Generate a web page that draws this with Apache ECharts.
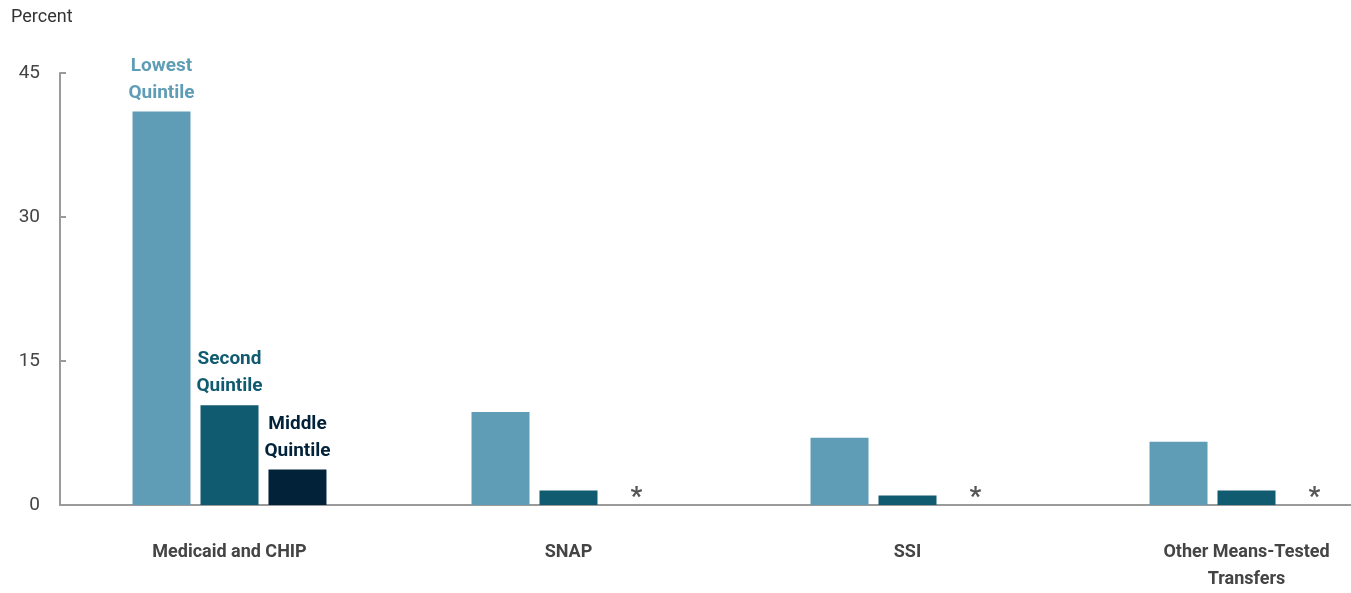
<!DOCTYPE html>
<html>
<head>
<meta charset="utf-8">
<script src="https://cdn.jsdelivr.net/npm/echarts@6/dist/echarts.min.js"></script>
<style>
  html, body { margin: 0; padding: 0; background: #fff; overflow: hidden; }
  #chart { width: 1416px; height: 593px; }
</style>
</head>
<body>
<div id="chart"></div>
<script>
// Programs and quintile shares (percent)
const categories = ['Medicaid and CHIP', 'SNAP', 'SSI', 'Other Means-Tested\nTransfers'];
const seriesNames = ['Lowest Quintile', 'Second Quintile', 'Middle Quintile'];
const lowest = [41.0, 9.7, 7.0, 6.6];
const second = [10.4, 1.5, 1.0, 1.5];
const middle = [3.7, 0, 0, 0];           // zero entries shown with an asterisk
const middleMarks = [null, '*', '*', '*'];
const yTicks = [0, 15, 30, 45];

const colors = ['#5e9db5', '#115b70', '#02223a'];
const FONT = 'Roboto, "Liberation Sans", sans-serif';

function nameLabel(i) {
  return {
    show: true,
    position: 'top',
    distance: 5,
    formatter: seriesNames[i].replace(' ', '\n'),
    color: colors[i],
    fontFamily: FONT,
    fontWeight: 'bold',
    fontSize: 19,
    lineHeight: 27,
    align: 'center'
  };
}

function buildData(values, i) {
  return values.map((v, k) => {
    const item = { value: v };
    if (k === 0) item.label = nameLabel(i);
    return item;
  });
}

const middleData = middle.map((v, k) => {
  const item = { value: v };
  if (k === 0) {
    item.label = nameLabel(2);
  } else if (middleMarks[k]) {
    item.label = {
      show: true,
      position: 'top',
      distance: -6,
      formatter: middleMarks[k],
      color: '#555',
      fontFamily: FONT,
      fontWeight: 'bold',
      fontSize: 26
    };
  }
  return item;
});

// The plot runs past the right edge of the window, so the container is wider than the viewport
const chart = echarts.init(document.getElementById('chart'), null, { renderer: 'canvas' });
chart.setOption({
  animation: false,
  backgroundColor: '#fff',
  graphic: [{
    type: 'text',
    left: 11,
    top: 8,
    style: { text: 'Percent', fill: '#333', font: '18px ' + FONT }
  }],
  grid: { left: 60, right: 0, top: 73, bottom: 84, containLabel: false },
  xAxis: {
    type: 'category',
    data: categories,
    axisLine: { show: true, lineStyle: { color: '#9a9a9a', width: 2 } },
    axisTick: { show: false },
    axisLabel: {
      color: '#444',
      fontFamily: FONT,
      fontWeight: 'bold',
      fontSize: 18,
      lineHeight: 27,
      margin: 34,
      interval: 0
    }
  },
  yAxis: {
    type: 'value',
    min: 0,
    max: 45,
    interval: 15,
    axisLine: { show: true, lineStyle: { color: '#9a9a9a', width: 2 } },
    axisTick: { show: true, inside: true, length: 6, lineStyle: { color: '#9a9a9a', width: 2 } },
    splitLine: { show: false },
    axisLabel: {
      color: '#444',
      fontFamily: FONT,
      fontSize: 19,
      margin: 20,
      formatter: v => (yTicks.includes(v) ? String(v) : '')
    }
  },
  series: [
    { name: seriesNames[0], type: 'bar', barWidth: 58, barGap: '17.2%', data: buildData(lowest, 0), itemStyle: { color: colors[0] } },
    { name: seriesNames[1], type: 'bar', barWidth: 58, barGap: '17.2%', data: buildData(second, 1), itemStyle: { color: colors[1] } },
    { name: seriesNames[2], type: 'bar', barWidth: 58, barGap: '17.2%', data: middleData, itemStyle: { color: colors[2] } }
  ]
});
</script>
</body>
</html>
